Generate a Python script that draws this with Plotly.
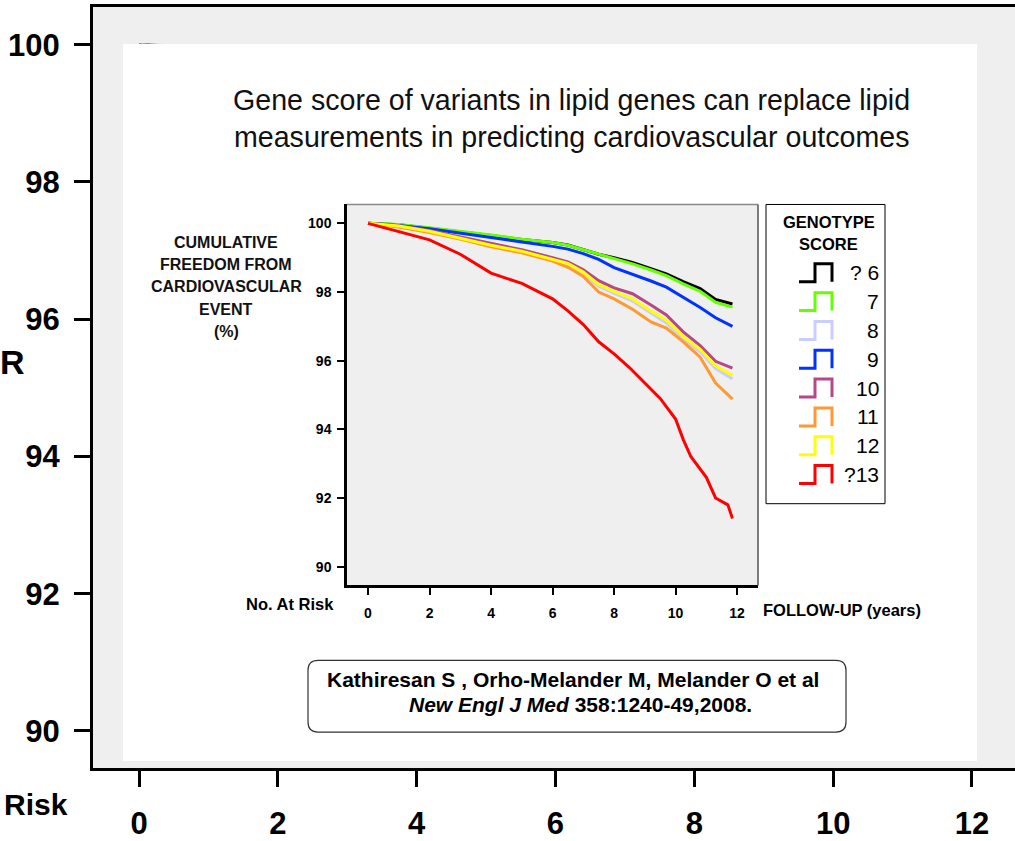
import plotly.graph_objects as go

# ---------------- data ----------------
groups = ["? 6", "7", "8", "9", "10", "11", "12", "?13"]
colors = ["#000000", "#66ff00", "#ccccff", "#0033ff", "#b5478a", "#ff9933", "#ffff00", "#ff0000"]

years = [0, 1, 2, 3, 4, 5, 6, 6.5, 7, 7.5, 8, 8.6, 9.2, 9.7, 10.25, 10.8, 11.3, 11.85]
surv_le6 = [100, 99.96, 99.86, 99.76, 99.65, 99.53, 99.44, 99.37, 99.24, 99.10, 99.00, 98.86, 98.68, 98.53, 98.30, 98.10, 97.78, 97.65]
surv_7 = [100, 99.97, 99.87, 99.77, 99.66, 99.54, 99.44, 99.36, 99.23, 99.09, 98.97, 98.82, 98.64, 98.48, 98.24, 98.02, 97.70, 97.56]
surv_8 = [100, 99.91, 99.75, 99.55, 99.33, 99.16, 98.93, 98.79, 98.53, 98.17, 97.96, 97.74, 97.38, 97.10, 96.62, 96.26, 95.77, 95.47]
surv_9 = [100, 99.94, 99.84, 99.72, 99.59, 99.46, 99.33, 99.25, 99.12, 98.95, 98.71, 98.52, 98.32, 98.14, 97.85, 97.55, 97.25, 97.00]
surv_10 = [100, 99.93, 99.79, 99.60, 99.40, 99.23, 99.00, 98.88, 98.65, 98.33, 98.12, 97.95, 97.62, 97.33, 96.84, 96.44, 95.98, 95.78]
surv_11 = [100, 99.89, 99.73, 99.54, 99.32, 99.14, 98.90, 98.72, 98.45, 98.00, 97.80, 97.50, 97.13, 96.95, 96.55, 96.10, 95.35, 94.88]
surv_12 = [100, 99.92, 99.77, 99.57, 99.36, 99.19, 98.96, 98.83, 98.58, 98.22, 98.02, 97.80, 97.45, 97.18, 96.70, 96.33, 95.85, 95.57]
years_13 = [0, 0.5, 1, 2, 3, 4, 5, 6, 6.5, 7, 7.5, 8, 8.5, 9, 9.5, 10, 10.25, 10.5, 11, 11.3, 11.7, 11.85]
surv_13 = [100, 99.88, 99.78, 99.52, 99.10, 98.55, 98.25, 97.80, 97.45, 97.05, 96.55, 96.20, 95.80, 95.35, 94.90, 94.30, 93.70, 93.20, 92.60, 92.00, 91.80, 91.40]

series_x = [years, years, years, years, years, years, years, years_13]
series_y = [surv_le6, surv_7, surv_8, surv_9, surv_10, surv_11, surv_12, surv_13]

outer_xticks = [0, 2, 4, 6, 8, 10, 12]
outer_yticks = [90, 92, 94, 96, 98, 100]
inner_xticks = [0, 2, 4, 6, 8, 10, 12]
inner_yticks = [90, 92, 94, 96, 98, 100]

title_lines = ["Gene score of variants in lipid genes can replace lipid",
               "measurements in predicting cardiovascular outcomes"]
ytitle_lines = ["CUMULATIVE", "FREEDOM FROM", "CARDIOVASCULAR", "EVENT", "(%)"]
legend_title = ["GENOTYPE", "SCORE"]
citation = ["Kathiresan S , Orho-Melander M, Melander O et al",
            "<i>New Engl J Med</i> 358:1240-49,2008."]

# ---------------- layout helpers (pixels -> paper) ----------------
W, H = 1015, 841
ML, MR, MT, MB = 93, 0, 7, 71
PW, PH = W - ML - MR, H - MT - MB


def px(x):
    return (x - ML) / PW


def py(y):
    return (H - MB - y) / PH


FONT = "Arial, Liberation Sans, sans-serif"

fig = go.Figure()

# outer chart curves (mostly hidden by the white panel)
for name, c, xs, ys in zip(groups, colors, series_x, series_y):
    fig.add_trace(go.Scatter(x=xs, y=ys, mode="lines", line=dict(color=c, width=3),
                             showlegend=False, hoverinfo="skip", xaxis="x", yaxis="y"))

# white panel subplot (placeholder trace)
fig.add_trace(go.Scatter(x=[None], y=[None], mode="lines", showlegend=False,
                         hoverinfo="skip", xaxis="x2", yaxis="y2"))

# inner chart curves
for name, c, xs, ys in zip(groups, colors, series_x, series_y):
    fig.add_trace(go.Scatter(x=xs, y=ys, mode="lines", name=name, line=dict(color=c, width=3),
                             showlegend=False, xaxis="x3", yaxis="y3"))

outer_tickfont = dict(family=FONT, size=31, color="#000", weight="bold")
inner_tickfont = dict(family=FONT, size=14, color="#000", weight="bold")

fig.update_layout(
    width=W, height=H, margin=dict(l=ML, r=MR, t=MT, b=MB),
    paper_bgcolor="white", plot_bgcolor="#efefef", showlegend=False,
    xaxis=dict(domain=[0, 1], range=[-0.663, 12.62], tickvals=outer_xticks,
               ticks="outside", ticklen=16, tickwidth=3, tickcolor="#000",
               showline=True, linewidth=3, linecolor="#000", mirror=True,
               showgrid=False, zeroline=False, tickfont=outer_tickfont,
               ticklabelstandoff=10, anchor="y"),
    yaxis=dict(domain=[0, 1], range=[89.46, 100.55], tickvals=outer_yticks,
               ticks="outside", ticklen=16, tickwidth=3, tickcolor="#000",
               showline=True, linewidth=3, linecolor="#000",
               showgrid=False, zeroline=False, tickfont=outer_tickfont,
               ticklabelstandoff=8, anchor="x"),
    xaxis2=dict(domain=[px(123), px(977)], range=[0, 1], visible=False, anchor="y2"),
    yaxis2=dict(domain=[py(763), py(44)], range=[0, 1], visible=False, anchor="x2"),
    xaxis3=dict(domain=[px(347), px(758)], range=[-0.683, 12.68], tickvals=inner_xticks,
                ticks="outside", ticklen=7, tickwidth=2, tickcolor="#000",
                showline=True, linewidth=2.5, linecolor="#000",
                showgrid=False, zeroline=False, tickfont=inner_tickfont,
                ticklabelstandoff=6, anchor="y3"),
    yaxis3=dict(domain=[py(587), py(205)], range=[89.45, 100.55], tickvals=inner_yticks,
                ticks="outside", ticklen=7, tickwidth=2, tickcolor="#000",
                showline=True, linewidth=2.5, linecolor="#000",
                showgrid=False, zeroline=False, tickfont=inner_tickfont,
                ticklabelstandoff=3, anchor="x3"),
)

shapes = []
# white panel covering the outer plot
shapes.append(dict(type="rect", xref="x2", yref="y2", x0=0, x1=1, y0=0, y1=1,
                   fillcolor="white", line=dict(width=0), layer="below"))
# inner chart top/right frame
shapes.append(dict(type="line", xref="x3 domain", yref="y3 domain", x0=0, x1=1, y0=1, y1=1,
                   line=dict(color="#8a8a8a", width=1.5), layer="above"))
shapes.append(dict(type="line", xref="x3 domain", yref="y3 domain", x0=1, x1=1, y0=0, y1=1,
                   line=dict(color="#555555", width=1.5), layer="above"))
# legend box
shapes.append(dict(type="rect", xref="paper", yref="paper", x0=px(766), x1=px(885),
                   y0=py(505), y1=py(205), fillcolor="white",
                   line=dict(color="#000", width=1), layer="above"))
# citation rounded box
bx0, bx1, by0, by1, r = 308, 846, 662, 734, 10
path = (f"M {px(bx0 + r)},{py(by0)} L {px(bx1 - r)},{py(by0)} "
        f"Q {px(bx1)},{py(by0)} {px(bx1)},{py(by0 + r)} L {px(bx1)},{py(by1 - r)} "
        f"Q {px(bx1)},{py(by1)} {px(bx1 - r)},{py(by1)} L {px(bx0 + r)},{py(by1)} "
        f"Q {px(bx0)},{py(by1)} {px(bx0)},{py(by1 - r)} L {px(bx0)},{py(by0 + r)} "
        f"Q {px(bx0)},{py(by0)} {px(bx0 + r)},{py(by0)} Z")
shapes.append(dict(type="path", xref="paper", yref="paper", path=path,
                   fillcolor="white", line=dict(color="#333", width=1.2), layer="above"))

annotations = []


def add_text(text, x, y, size, bold=False, xanchor="center", color="#000"):
    annotations.append(dict(text=text, x=px(x), y=py(y), xref="paper", yref="paper",
                            xanchor=xanchor, yanchor="middle", showarrow=False,
                            font=dict(family=FONT, size=size, color=color,
                                      weight="bold" if bold else "normal")))


# legend entries
leg_y0, leg_dy = 272.5, 28.9
for i, (name, c) in enumerate(zip(groups, colors)):
    cy = leg_y0 + i * leg_dy
    top, bot = cy - 8, cy + 10
    p = (f"M {px(799)},{py(bot)} L {px(815)},{py(bot)} L {px(815)},{py(top)} "
         f"L {px(832)},{py(top)} L {px(832)},{py(bot)}")
    shapes.append(dict(type="path", xref="paper", yref="paper", path=p,
                       line=dict(color=c, width=3), layer="above"))
    add_text(name, 881, cy + 1, 21, xanchor="right")

add_text(legend_title[0], 829, 223, 16.5, bold=True)
add_text(legend_title[1], 828, 245, 16.5, bold=True)

# title
add_text(title_lines[0], 571, 100, 28.6, color="#111")
add_text(title_lines[1], 571, 137, 28.6, color="#111")

# inner y title
for i, t in enumerate(ytitle_lines):
    add_text(t, 226, 243 + i * 22.3, 16, bold=True, color="#111")

add_text("No. At Risk", 336, 606, 16.5, bold=True, xanchor="right")
add_text("FOLLOW-UP (years)", 761, 612, 16.5, bold=True, xanchor="left")

# citation
add_text(citation[0], 573, 681, 21, bold=True)
add_text(citation[1], 580, 706, 21, bold=True)

# cut-off outer axis titles
add_text("R", 27, 363, 34, bold=True, xanchor="right")
add_text("Risk", 70, 807, 30, bold=True, xanchor="right")

fig.update_layout(shapes=shapes, annotations=annotations)
fig.write_html("out.html", config={"displayModeBar": False},
               post_script="document.body.style.margin='0';document.body.style.padding='0';")
